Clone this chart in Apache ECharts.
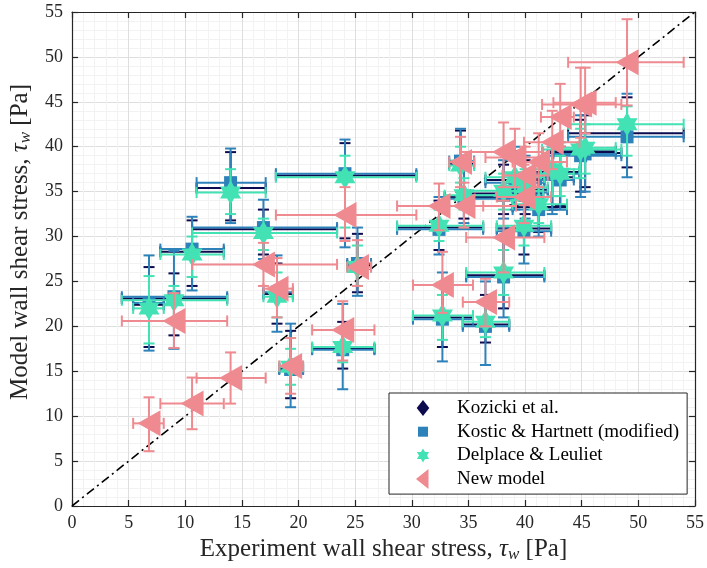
<!DOCTYPE html>
<html>
<head>
<meta charset="utf-8">
<script src="https://cdn.jsdelivr.net/npm/echarts@6/dist/echarts.min.js"></script>
<style>
html, body { margin: 0; padding: 0; background: #fff; }
#main { width: 707px; height: 568px; }
</style>
</head>
<body>
<div id="main"></div>
<script>
// experiment values (x) with their uncertainty range, shared by every model
var expX  = [6.8, 9.0, 10.6, 14.0, 16.9, 18.1, 24.1, 25.2, 23.9, 19.3, 32.4, 34.6, 34.3, 38.1, 38.1, 36.5, 32.7, 49.0, 44.9, 43.1, 42.4, 39.1, 41.2, 39.9, 40.0, 45.3];
var expLo = [5.4, 4.4, 7.8, 11.0, 10.6, 16.9, 18.0, 24.3, 21.2, 18.3, 28.7, 32.9, 33.3, 34.3, 34.8, 34.5, 30.1, 43.8, 41.5, 41.4, 39.9, 36.5, 38.9, 37.5, 38.0, 42.5];
var expHi = [8.1, 13.7, 13.4, 17.1, 23.4, 19.5, 30.4, 26.4, 26.7, 20.4, 36.3, 39.2, 35.5, 41.6, 41.7, 38.6, 35.4, 54.0, 48.5, 44.3, 44.8, 41.7, 43.7, 42.3, 42.0, 48.0];

// model predictions (y) with lower / upper error
var kozY  = [22.4, 23.1, 28.3, 35.4, 30.8, 23.6, 36.8, 26.8, 17.5, 15.3, 31.0, 34.4, 38.1, 34.8, 25.7, 20.2, 21.0, 41.5, 39.3, 36.6, 37.2, 36.3, 33.3, 30.9, 35.2, 39.5];
var kozLo = [17.7, 19.0, 24.5, 31.8, 28.0, 20.3, 29.8, 23.8, 15.3, 12.0, 28.5, 32.0, 35.0, 32.5, 22.0, 18.2, 17.7, 37.7, 35.0, 33.5, 33.0, 33.5, 30.5, 28.0, 32.5, 35.5];
var kozHi = [26.6, 25.9, 31.8, 39.4, 33.0, 27.0, 40.4, 30.3, 20.5, 19.5, 34.0, 37.5, 41.8, 38.0, 30.0, 23.5, 24.5, 45.5, 43.0, 40.0, 39.5, 39.5, 36.5, 34.0, 38.5, 43.5];

var kosY  = [22.6, 23.3, 28.6, 36.0, 31.0, 23.8, 37.0, 27.0, 17.4, 15.2, 30.8, 34.2, 38.4, 34.6, 25.5, 20.0, 20.8, 41.1, 39.0, 36.3, 37.0, 36.0, 33.0, 30.6, 34.9, 39.2];
var kosLo = [17.3, 17.5, 24.0, 31.5, 27.5, 19.4, 28.8, 23.4, 13.0, 11.0, 28.0, 31.5, 34.5, 32.0, 21.0, 15.7, 16.1, 36.6, 34.4, 33.0, 32.5, 33.0, 30.0, 27.0, 32.0, 35.0];
var kosHi = [27.9, 28.4, 32.2, 39.8, 34.1, 27.9, 40.8, 31.0, 22.5, 20.3, 34.4, 38.0, 42.0, 38.5, 31.0, 25.0, 26.0, 45.9, 43.5, 40.5, 40.0, 40.0, 37.0, 34.5, 39.0, 44.0];

var delY  = [22.0, 22.9, 28.0, 34.9, 30.4, 23.3, 36.6, 26.6, 17.7, 15.5, 31.2, 34.6, 37.9, 35.1, 26.0, 20.5, 21.2, 42.5, 39.7, 37.0, 37.5, 36.6, 33.6, 31.2, 35.5, 39.9];
var delLo = [18.1, 20.5, 25.5, 32.5, 28.5, 21.0, 31.0, 24.5, 16.0, 13.5, 29.5, 33.0, 36.0, 33.0, 23.5, 18.8, 18.5, 39.0, 36.5, 34.5, 34.5, 34.0, 31.5, 29.0, 33.5, 37.0];
var delHi = [25.6, 24.5, 30.0, 37.5, 32.0, 26.0, 39.0, 29.0, 19.5, 17.5, 33.0, 36.5, 40.0, 37.0, 28.5, 22.5, 23.5, 44.5, 42.0, 39.0, 40.0, 38.5, 35.5, 33.5, 37.5, 42.5];

var newY  = [9.2, 20.6, 11.4, 14.25, 26.9, 24.2, 32.4, 26.6, 19.6, 15.6, 33.4, 33.4, 38.3, 39.4, 29.9, 22.7, 24.6, 49.4, 44.7, 43.3, 40.5, 38.8, 38.3, 34.4, 36.8, 44.9];
var newLo = [6.1, 17.6, 8.55, 11.4, 24.5, 21.0, 29.5, 24.5, 16.2, 12.5, 30.7, 31.0, 35.5, 35.5, 26.0, 20.0, 21.5, 44.6, 41.0, 40.0, 37.5, 35.5, 35.5, 31.5, 33.5, 41.5];
var newHi = [12.1, 23.7, 14.3, 17.1, 29.3, 27.6, 35.5, 29.6, 22.8, 18.7, 35.9, 36.0, 41.1, 42.7, 34.0, 25.3, 28.3, 54.2, 48.8, 47.0, 44.0, 42.0, 41.5, 38.0, 40.0, 48.8];

var names = ['Kozicki et al.', 'Kostic & Hartnett (modified)', 'Delplace & Leuliet', 'New model'];

var myChart = echarts.init(document.getElementById('main'));

var font = 'Liberation Serif, Times New Roman, serif';
var hexagram = 'path://M0,-10 L8.66,5 L-8.66,5 Z M0,10 L-8.66,-5 L8.66,-5 Z';

// legend icons: the leading moves fix a 20x20 box so the shapes keep their own size
var box = 'M-10,-10 M10,10 ';
var legendIcons = [
    'path://' + box + 'M0,-8 L6.3,0 L0,8 L-6.3,0 Z',
    'path://' + box + 'M-5,-5 L5,-5 L5,5 L-5,5 Z',
    'path://' + box + 'M0,-7 L6.06,3.5 L-6.06,3.5 Z M0,7 L-6.06,-3.5 L6.06,-3.5 Z',
    'path://' + box + 'M-7,0 L5.5,-10 L5.5,10 Z'
];

function rows(y, lo, hi) {
    var res = [];
    for (var i = 0; i < expX.length; i++) {
        res.push([expX[i], y[i], expLo[i], expHi[i], lo[i], hi[i]]);
    }
    return res;
}

// error bars with end caps, both directions
function errRender(color, cap) {
    return function (params, api) {
        var x = api.value(0), y = api.value(1);
        var c = api.coord([x, y]);
        var l = api.coord([api.value(2), y]);
        var r = api.coord([api.value(3), y]);
        var b = api.coord([x, api.value(4)]);
        var t = api.coord([x, api.value(5)]);
        function seg(x1, y1, x2, y2) {
            return {
                type: 'line',
                shape: {x1: x1, y1: y1, x2: x2, y2: y2},
                style: {stroke: color, lineWidth: 2}
            };
        }
        return {
            type: 'group',
            children: [
                seg(l[0], c[1], r[0], c[1]),
                seg(l[0], c[1] - cap, l[0], c[1] + cap),
                seg(r[0], c[1] - cap, r[0], c[1] + cap),
                seg(c[0], b[1], c[0], t[1]),
                seg(c[0] - cap, b[1], c[0] + cap, b[1]),
                seg(c[0] - cap, t[1], c[0] + cap, t[1])
            ]
        };
    };
}

var groups = [
    {name: names[0], color: '#0d0b4f', y: kozY, lo: kozLo, hi: kozHi, symbol: 'diamond', size: [11, 16], rot: 0},
    {name: names[1], color: '#2e82ba', y: kosY, lo: kosLo, hi: kosHi, symbol: 'rect', size: 13, rot: 0},
    {name: names[2], color: '#42e2b5', y: delY, lo: delLo, hi: delHi, symbol: hexagram, size: [21, 24], rot: 0},
    {name: names[3], color: '#ee8a90', y: newY, lo: newLo, hi: newHi, symbol: 'triangle', size: [26, 23], rot: 90}
];

var series = [{
    type: 'line',
    data: [[0, 0], [55, 55]],
    symbol: 'none',
    silent: true,
    z: 1,
    lineStyle: {color: '#000', width: 1.6, type: [9, 4, 2, 4]}
}];

groups.forEach(function (g, k) {
    var data = rows(g.y, g.lo, g.hi);
    series.push({
        name: 'err' + k,
        type: 'custom',
        renderItem: errRender(g.color, 5.5),
        encode: {x: 0, y: 1},
        data: data,
        z: 2 + k * 2,
        silent: true
    });
    series.push({
        name: g.name,
        type: 'scatter',
        data: data,
        encode: {x: 0, y: 1},
        symbol: g.symbol,
        symbolSize: g.size,
        symbolRotate: g.rot,
        itemStyle: {color: g.color, opacity: 1},
        z: 3 + k * 2
    });
});

var titleRich = {
    n: {fontFamily: font, fontSize: 25, color: '#262626'},
    t: {fontFamily: font, fontSize: 25, fontStyle: 'italic', color: '#262626'},
    s: {fontFamily: font, fontSize: 17, fontStyle: 'italic', color: '#262626', verticalAlign: 'bottom', padding: [10, 0, 0, 0]}
};

var axisCommon = {
    type: 'value',
    min: 0,
    max: 55,
    interval: 5,
    axisLine: {show: true, onZero: false, lineStyle: {color: '#262626', width: 1.2}},
    axisTick: {show: true, inside: true, length: 6, lineStyle: {color: '#262626', width: 1.2}}
};

option = {
    animation: false,
    backgroundColor: '#fff',
    grid: {left: 72, right: 10, top: 12, bottom: 62},
    legend: {
        orient: 'vertical',
        left: 389,
        top: 393,
        data: names.map(function (n, k) { return {name: n, icon: legendIcons[k]}; }),
        itemWidth: 20,
        itemHeight: 20,
        itemGap: 3.7,
        padding: [5, 8, 5, 24],
        backgroundColor: '#fff',
        borderColor: '#262626',
        borderWidth: 1,
        borderRadius: 0,
        textStyle: {fontFamily: font, fontSize: 19, lineHeight: 18, color: '#000', padding: [0, 0, 0, 19]}
    },
    xAxis: [
        Object.assign({}, axisCommon, {
            position: 'bottom',
            name: '{n|Experiment wall shear stress, }{t|τ}{s|w}{n| [Pa]}',
            nameLocation: 'middle',
            nameGap: 29,
            nameTextStyle: {rich: titleRich},
            axisLabel: {fontFamily: font, fontSize: 18, color: '#262626', margin: 8},
            splitLine: {show: true, lineStyle: {color: '#dedede', width: 1}},
            minorTick: {show: false, splitNumber: 5},
            minorSplitLine: {show: true, lineStyle: {color: '#f2f2f2', width: 1}}
        }),
        Object.assign({}, axisCommon, {
            position: 'top',
            axisLabel: {show: false},
            splitLine: {show: false}
        })
    ],
    yAxis: [
        Object.assign({}, axisCommon, {
            position: 'left',
            name: '{n|Model wall shear stress, }{t|τ}{s|w}{n| [Pa]}',
            nameLocation: 'middle',
            nameGap: 37,
            nameTextStyle: {rich: titleRich, padding: [0, 0, 0, 34]},
            axisLabel: {fontFamily: font, fontSize: 18, color: '#262626', margin: 9},
            splitLine: {show: true, lineStyle: {color: '#dedede', width: 1}},
            minorTick: {show: false, splitNumber: 5},
            minorSplitLine: {show: true, lineStyle: {color: '#f2f2f2', width: 1}}
        }),
        Object.assign({}, axisCommon, {
            position: 'right',
            axisLabel: {show: false},
            splitLine: {show: false}
        })
    ],
    series: series
};

myChart.setOption(option);
</script>
</body>
</html>
